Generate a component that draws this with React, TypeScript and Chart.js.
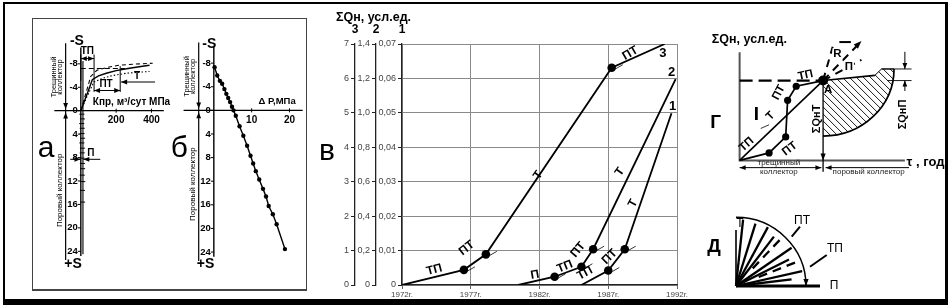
import React, { useEffect, useRef } from "react";
import { Chart, registerables } from "chart.js";

Chart.register(...registerables);

const SANS = "'Liberation Sans', Arial, Helvetica, sans-serif";
const NARROW = "'Liberation Sans Narrow', 'Liberation Sans', Arial, sans-serif";

/* ================= panel а : Кпр vs S ================= */
const A_Y_TICKS = [-8, -4, 0, 4, 8, 12, 16, 20, 24];
const A_Y_LABELS = ["-8", "-4", "0", "4", "8", "12", "16", "20", "24"];
const A_X_TICKS = [200, 400];
const A_X_LABELS = ["200", "400"];
const A_SOLID_K = [0, 20, 45, 65, 100, 144, 200, 267, 330, 389];
const A_SOLID_S = [0, -1.6, -3.6, -5.3, -5.95, -6.4, -6.85, -7.2, -7.5, -7.75];
const A_DASH_K = [0, 28, 56, 91, 150, 214, 300, 407];
const A_DASH_S = [0, -2.9, -5.85, -6.9, -7.4, -7.75, -7.95, -8.1];
const A_DOT_K = [0, 35, 74, 130, 179, 260, 389];
const A_DOT_S = [0, -2.4, -4.9, -5.6, -6.0, -6.4, -6.7];
const A_PORE_K = [12, 12];
const A_PORE_S = [-8.5, 24.5];
const A_MARK_K = [6, 9, 5, 8, 7, 10, 6, 9, 8, 7, 9, 10, 8, 11, 9, 10];
const A_MARK_S = [0.6, 1.4, 2.2, 3.0, 3.9, 4.7, 5.5, 6.4, 7.2, 8.1, 9.0, 9.9, 11.0, 12.1, 13.6, 15.6];

/* ================= panel б : ΔP vs S ================= */
const B_Y_TICKS = [-8, -4, 0, 4, 8, 12, 16, 20, 24];
const B_Y_LABELS = ["-8", "-4", "0", "4", "8", "12", "16", "20", "24"];
const B_X_TICKS = [10, 20];
const B_X_LABELS = ["10", "20"];
const B_DP = [0.2, 0.9, 1.6, 2.2, 2.8, 3.3, 3.8, 4.3, 4.8, 5.2, 5.8, 6.8, 7.8, 8.8, 9.7, 10.4, 11.1, 12.0, 13.0, 13.8, 14.5, 15.6, 16.6, 18.8];
const B_S = [-7.3, -5.9, -5.0, -4.5, -3.6, -2.8, -2.1, -1.4, -0.6, 0, 0.9, 2.7, 4.3, 6.0, 7.7, 9.0, 10.3, 11.7, 13.3, 14.6, 16.2, 17.6, 19.3, 23.5];

/* ================= panel в : ΣQн by years ================= */
const V_X_TICKS = [1972, 1977, 1982, 1987, 1992];
const V_X_LABELS = ["1972г.", "1977г.", "1982г.", "1987г.", "1992г."];
const V_AXIS3_LABELS = ["0", "1", "2", "3", "4", "5", "6", "7"];
const V_AXIS2_LABELS = ["0", "0,2", "0,4", "0,6", "0,8", "1,0", "1,2", "1,4"];
const V_AXIS1_LABELS = ["0", "0,01", "0,02", "0,03", "0,04", "0,05", "0,06", "0,07"];

const V_CURVE3_YEARS = [1972, 1976.5, 1978.1, 1987.25, 1991.1];
const V_CURVE3_Q = [0, 0.44, 0.89, 6.31, 7.0];
const V_CURVE3_MARK = [0, 1, 1, 1, 0];
const V_CURVE2_YEARS = [1980.45, 1983.1, 1985.05, 1985.9, 1991.9];
const V_CURVE2_Q = [0, 0.24, 0.53, 1.04, 5.98];
const V_CURVE2_MARK = [0, 1, 1, 1, 0];
const V_CURVE1_YEARS = [1985.05, 1987.0, 1988.2, 1991.6];
const V_CURVE1_Q = [0, 0.42, 1.04, 4.99];
const V_CURVE1_MARK = [0, 1, 1, 0];

const V_SEG_TEXT = ["ТП", "ПТ", "Т", "ПТ", "П", "ТП", "ПТ", "Т", "ТП", "ПТ", "Т"];
const V_SEG_X = [1974.35, 1976.7, 1981.9, 1988.6, 1981.67, 1983.85, 1984.8, 1987.85, 1985.3, 1987.1, 1988.8];
const V_SEG_Y = [0.44, 1.07, 3.19, 6.73, 0.29, 0.53, 1.02, 3.29, 0.34, 0.82, 2.37];
const V_SEG_ROT = [-15, -38, -55, -30, -10, -22, -50, -55, -28, -45, -62];
const V_CURVE_NAMES = ["3", "2", "1"];
const V_NAME_X = [1990.98, 1991.6, 1991.69];
const V_NAME_Y = [6.74, 6.16, 5.2];

/* ================= panel г : scheme ================= */
const G_I_U = [0, 1];
const G_I_V = [0, 1];
const G_II_U = [0, 0.353, 0.552, 0.575, 0.678, 1];
const G_II_V = [0, 0.094, 0.294, 0.753, 0.929, 1];
const G_II_MARK = [0, 1, 1, 1, 1, 0];
const G_A_U = [1];
const G_A_V = [1];
const G_LEVEL_U = [0, 1];
const G_LEVEL_V = [1, 1];
const G_TOP_U = [1, 1.62, 1.7, 1.85];
const G_TOP_V = [1, 1.065, 1.145, 1.145];
const G_ARC_C = [1, 1.145];
const G_ARC_R = [0.85, 0.84];
const G_RAY_END_U = [1.115, 1.46, 1.46];
const G_RAY_END_V = [1.424, 1.494, 1.259];
const G_TEXT = ["ТП", "ПТ", "I", "Т", "ТП", "ПТ", "А", "R", "П"];
const G_TEXT_U = [0.79, 0.468, 0.2, 0.371, 0.084, 0.6, 1.06, 1.172, 1.31];
const G_TEXT_V = [1.067, 0.85, 0.576, 0.556, 0.2, 0.145, 0.89, 1.33, 1.176];
const G_TEXT_ROT = [-12, -62, 0, -45, -42, -38, 0, 0, 0];

/* ================= panel д : rose ================= */
const D_SOLID_ANGLES = [84, 73, 62, 53, 35, 27, 13, 7];
const D_SOLID_LEN = [0.97, 0.95, 0.97, 0.9, 0.97, 0.85, 0.97, 0.8];
const D_DASH_ANGLES = [47, 22];
const D_DASH_FROM = [0.35, 0.35];
const D_DASH_TO = [0.95, 0.92];
const D_TEXT = ["Т", "П", "ПТ", "ТП"];
const D_TEXT_A = [0.057, 1.4, 0.943, 1.414];
const D_TEXT_B = [0.91, 0, 0.946, 0.539];

/* ================= helpers ================= */
type Box = { x: number; y: number; w: number; h: number };

function span(p0: number, v0: number, p1: number, v1: number, a: number, b: number): [number, number] {
  const k = (v1 - v0) / (p1 - p0);
  return [v0 + (a - p0) * k, v0 + (b - p0) * k];
}

function pts(xs: number[], ys: number[]) {
  return xs.map((x, i) => ({ x, y: ys[i] }));
}

function lineDs(xs: number[], ys: number[], width: number, extra: any = {}) {
  return {
    data: pts(xs, ys),
    borderColor: "#000",
    backgroundColor: "#000",
    borderWidth: width,
    pointRadius: 0,
    pointBackgroundColor: "#000",
    pointBorderColor: "#000",
    pointBorderWidth: 0,
    tension: 0,
    fill: false,
    ...extra,
  };
}

function strokePath(ctx: CanvasRenderingContext2D, p: number[][], width: number, color = "#000", dash: number[] = []) {
  ctx.save();
  ctx.beginPath();
  ctx.lineWidth = width;
  ctx.strokeStyle = color;
  ctx.setLineDash(dash);
  p.forEach(([x, y], i) => (i ? ctx.lineTo(x, y) : ctx.moveTo(x, y)));
  ctx.stroke();
  ctx.restore();
}

function arrowHead(ctx: CanvasRenderingContext2D, fx: number, fy: number, tx: number, ty: number, len = 6, half = 2.4, color = "#000") {
  const a = Math.atan2(ty - fy, tx - fx);
  ctx.save();
  ctx.fillStyle = color;
  ctx.beginPath();
  ctx.moveTo(tx, ty);
  ctx.lineTo(tx - len * Math.cos(a) + half * Math.sin(a), ty - len * Math.sin(a) - half * Math.cos(a));
  ctx.lineTo(tx - len * Math.cos(a) - half * Math.sin(a), ty - len * Math.sin(a) + half * Math.cos(a));
  ctx.closePath();
  ctx.fill();
  ctx.restore();
}

function arrow(ctx: CanvasRenderingContext2D, fx: number, fy: number, tx: number, ty: number, width = 1, both = false) {
  strokePath(ctx, [[fx, fy], [tx, ty]], width);
  arrowHead(ctx, fx, fy, tx, ty);
  if (both) arrowHead(ctx, tx, ty, fx, fy);
}

function text(ctx: CanvasRenderingContext2D, s: string, x: number, y: number, font: string, rot = 0,
  align: CanvasTextAlign = "center", baseline: CanvasTextBaseline = "middle", color = "#000") {
  ctx.save();
  ctx.translate(x, y);
  if (rot) ctx.rotate((rot * Math.PI) / 180);
  ctx.font = font;
  ctx.fillStyle = color;
  ctx.textAlign = align;
  ctx.textBaseline = baseline;
  ctx.fillText(s, 0, 0);
  ctx.restore();
}

function schematicOptions(xr: [number, number], yr: [number, number], reverse: boolean) {
  return {
    animation: false,
    responsive: false,
    events: [],
    layout: { padding: 0 },
    plugins: { legend: { display: false }, tooltip: { enabled: false } },
    scales: {
      x: { type: "linear", display: false, min: xr[0], max: xr[1] },
      y: {
        type: "linear",
        display: false,
        reverse,
        min: reverse ? yr[0] : yr[1],
        max: reverse ? yr[1] : yr[0],
      },
    },
  };
}

function mapper(chart: any) {
  const xs = chart.scales.x;
  const ys = chart.scales.y;
  return {
    X: (v: number) => xs.getPixelForValue(v),
    Y: (v: number) => ys.getPixelForValue(v),
    P: (u: number, v: number) => [xs.getPixelForValue(u), ys.getPixelForValue(v)],
  };
}

const TICK_FONT = `bold 9.5px ${NARROW}`;

/* ================= panel а chart ================= */
const A_BOX: Box = { x: 30, y: 20, w: 142, h: 270 };

function drawSAxis(ctx: CanvasRenderingContext2D, X: any, Y: any, yTicks: number[], yLabels: string[]) {
  const x0 = X(0);
  strokePath(ctx, [[x0, Y(-10.8)], [x0, Y(24.8)]], 1.4);
  yTicks.forEach((s, i) => {
    strokePath(ctx, [[x0 - 3, Y(s)], [x0, Y(s)]], 1);
    text(ctx, yLabels[i], x0 - 3, Y(s), TICK_FONT, 0, "right");
  });
}

function drawZoneTexts(ctx: CanvasRenderingContext2D, X: any, Y: any, k1: number, k2: number, kp: number, sp: number) {
  const f = `7.5px ${SANS}`;
  text(ctx, "Трещинный", X(k1), Y(-5.75), f, -90);
  text(ctx, "коллектор", X(k2), Y(-5.75), f, -90);
  text(ctx, "Поровый коллектор", X(kp), Y(sp), `8px ${SANS}`, -90);
}

const aPlugin = {
  id: "aExtras",
  afterDatasetsDraw(chart: any) {
    const ctx: CanvasRenderingContext2D = chart.ctx;
    const { X, Y } = mapper(chart);
    const y0 = Y(0);
    drawSAxis(ctx, X, Y, A_Y_TICKS, A_Y_LABELS);
    strokePath(ctx, [[X(-150), y0], [X(470), y0]], 1.3);
    A_X_TICKS.forEach((k, i) => {
      strokePath(ctx, [[X(k), y0 - 2], [X(k), y0 + 2]], 1);
      text(ctx, A_X_LABELS[i], X(k), y0 + 10, `bold 10px ${NARROW}`);
    });
    text(ctx, "Кпр, м³/сут МПа", X(68), Y(-1.5), `bold 10px ${NARROW}`, 0, "left");
    // boundary arrows line
    const xa = X(-86);
    strokePath(ctx, [[xa, Y(-11.5)], [xa, Y(25.5)]], 1.2);
    arrowHead(ctx, xa, Y(-3), xa, Y(-0.3));
    arrowHead(ctx, xa, Y(3), xa, Y(0.3));
    drawZoneTexts(ctx, X, Y, -154, -117, -117, 13.6);
    text(ctx, "-S", X(-22), Y(-11.8), `bold 14px ${SANS}`);
    text(ctx, "+S", X(-44), Y(26.2), `bold 14px ${SANS}`);
    // ТП bracket
    strokePath(ctx, [[X(0), Y(-9.6)], [X(0), Y(-5.1)]], 1);
    strokePath(ctx, [[X(75), Y(-9.6)], [X(75), Y(-3.2)]], 1);
    arrow(ctx, X(0), Y(-8.9), X(75), Y(-8.9), 1, true);
    text(ctx, "ТП", X(37), Y(-10.1), `bold 10px ${SANS}`);
    // ПТ bracket
    strokePath(ctx, [[X(223), Y(-7.6)], [X(223), Y(-3.2)]], 1);
    arrow(ctx, X(75), Y(-3.45), X(223), Y(-3.45), 1, true);
    text(ctx, "ПТ", X(143), Y(-4.6), `bold 10px ${SANS}`);
    strokePath(ctx, [[X(0), Y(-7.2)], [X(250), Y(-7.2)]], 1.1, "#000", [5, 3]);
    // Т arrow
    arrow(ctx, X(420), Y(-4.9), X(228), Y(-4.9), 1.2);
    text(ctx, "Т", X(319), Y(-5.9), `bold 10px ${SANS}`);
    // П arrows
    arrow(ctx, X(-60), Y(8.3), X(-2), Y(8.3), 1);
    arrow(ctx, X(110), Y(8.3), X(14), Y(8.3), 1);
    text(ctx, "П", X(56), Y(7.2), `bold 10px ${SANS}`);
    // letter
    text(ctx, "а", X(-243.7), Y(7.9), `30px ${SANS}`, 0, "left", "alphabetic");
  },
};

function makeAConfig() {
  const xr = span(79.3, 0, 155.3, 400, A_BOX.x, A_BOX.x + A_BOX.w);
  const yr = span(109, 0, 255, 24, A_BOX.y, A_BOX.y + A_BOX.h);
  return {
    type: "line",
    data: {
      datasets: [
        lineDs(A_SOLID_K, A_SOLID_S, 1.4),
        lineDs(A_DASH_K, A_DASH_S, 1.1, { borderDash: [4, 3] }),
        lineDs(A_DOT_K, A_DOT_S, 1.1, { borderDash: [1.5, 2] }),
        lineDs(A_PORE_K, A_PORE_S, 1.1),
        lineDs(A_MARK_K, A_MARK_S, 0, { showLine: false, pointStyle: "line", pointRadius: 2.5, pointBorderWidth: 1 }),
      ],
    },
    options: schematicOptions(xr, yr, true),
    plugins: [aPlugin],
  };
}

/* ================= panel б chart ================= */
const B_BOX: Box = { x: 160, y: 20, w: 147, h: 270 };

const bPlugin = {
  id: "bExtras",
  afterDatasetsDraw(chart: any) {
    const ctx: CanvasRenderingContext2D = chart.ctx;
    const { X, Y } = mapper(chart);
    const y0 = Y(0);
    drawSAxis(ctx, X, Y, B_Y_TICKS, B_Y_LABELS);
    strokePath(ctx, [[X(-8), y0], [X(23.5), y0]], 1.3);
    B_X_TICKS.forEach((k, i) => {
      strokePath(ctx, [[X(k), y0 - 2], [X(k), y0 + 2]], 1);
      text(ctx, B_X_LABELS[i], X(k), y0 + 10, `bold 10px ${NARROW}`);
    });
    text(ctx, "Δ P,МПа", X(11.8), Y(-1.5), `bold 9.5px ${NARROW}`, 0, "left");
    const xa = X(-4);
    strokePath(ctx, [[xa, Y(-11.5)], [xa, Y(25.5)]], 1.2);
    arrowHead(ctx, xa, Y(-3), xa, Y(-0.3));
    arrowHead(ctx, xa, Y(3), xa, Y(0.3));
    drawZoneTexts(ctx, X, Y, -7.2, -5.6, -5.5, 12.5);
    text(ctx, "-S", X(-1.2), Y(-11.3), `bold 14px ${SANS}`);
    text(ctx, "+S", X(-2.2), Y(26), `bold 14px ${SANS}`);
    text(ctx, "б", X(-11.4), Y(7.9), `30px ${SANS}`, 0, "left", "alphabetic");
  },
};

function makeBConfig() {
  const xr = span(212.7, 0, 292.7, 20, B_BOX.x, B_BOX.x + B_BOX.w);
  const yr = span(109, 0, 255, 24, B_BOX.y, B_BOX.y + B_BOX.h);
  return {
    type: "line",
    data: {
      datasets: [lineDs(B_DP, B_S, 1.4, { pointRadius: 2.2 })],
    },
    options: schematicOptions(xr, yr, true),
    plugins: [bPlugin],
  };
}

/* ================= panel в chart ================= */
const V_BOX: Box = { x: 312, y: 0, w: 388, h: 298 };

function vYAxis(labels: string[], width: number, weight: number, inner: boolean) {
  const values = labels.map((l) => parseFloat(l.replace(",", ".")));
  return {
    type: "linear",
    position: "left",
    weight,
    min: values[0],
    max: values[values.length - 1],
    afterBuildTicks: (s: any) => {
      s.ticks = values.map((v) => ({ value: v }));
    },
    afterFit: (s: any) => {
      s.width = width;
      s.paddingTop = 0;
      s.paddingBottom = 0;
    },
    ticks: {
      callback: (_v: any, i: number) => labels[i],
      font: { size: 9, family: SANS },
      color: "#444",
      padding: 2,
      autoSkip: false,
    },
    grid: {
      drawOnChartArea: inner,
      color: "#8a8a8a",
      lineWidth: 1,
      tickLength: 4,
      tickColor: "#222",
      tickWidth: 1,
    },
    border: { display: true, color: "#222", width: 1.3 },
  };
}

const vPlugin = {
  id: "vExtras",
  afterDatasetsDraw(chart: any) {
    const ctx: CanvasRenderingContext2D = chart.ctx;
    const { X, Y } = mapper(chart);
    const curves = [
      [V_CURVE3_YEARS, V_CURVE3_Q, V_CURVE3_MARK],
      [V_CURVE2_YEARS, V_CURVE2_Q, V_CURVE2_MARK],
      [V_CURVE1_YEARS, V_CURVE1_Q, V_CURVE1_MARK],
    ];
    curves.forEach(([xs, ys, ms]) => {
      xs.forEach((x: number, i: number) => {
        if (!ms[i]) return;
        const px = X(x);
        const py = Y(ys[i]);
        strokePath(ctx, [[px + 4, py + 1], [px + 11, py - 3]], 0.8);
      });
    });
    V_SEG_TEXT.forEach((s, i) => {
      text(ctx, s, X(V_SEG_X[i]), Y(V_SEG_Y[i]), `bold 12px ${SANS}`, V_SEG_ROT[i]);
    });
    V_CURVE_NAMES.forEach((s, i) => {
      text(ctx, s, X(V_NAME_X[i]), Y(V_NAME_Y[i]), `bold 13px ${SANS}`);
    });
  },
  afterDraw(chart: any) {
    const ctx: CanvasRenderingContext2D = chart.ctx;
    const s3 = chart.scales.y;
    const s2 = chart.scales.y2;
    const s1 = chart.scales.y1;
    text(ctx, "ΣQн, усл.ед.", s3.left + 1, 18, `bold 12.5px ${SANS}`, 0, "left");
    text(ctx, "3", s3.right, 30, `bold 12px ${SANS}`);
    text(ctx, "2", s2.right, 30, `bold 12px ${SANS}`);
    text(ctx, "1", s1.right, 30, `bold 12px ${SANS}`);
    const { X, Y } = mapper(chart);
    text(ctx, "в", X(1965.96), Y(3.63), `30px ${SANS}`, 0, "left", "alphabetic");
  },
};

function makeVConfig() {
  const ds = (xs: number[], ys: number[], marks: number[]) =>
    lineDs(xs, ys, 1.8, { pointRadius: marks.map((m) => (m ? 4.3 : 0)), yAxisID: "y" });
  return {
    type: "line",
    data: {
      datasets: [
        ds(V_CURVE3_YEARS, V_CURVE3_Q, V_CURVE3_MARK),
        ds(V_CURVE2_YEARS, V_CURVE2_Q, V_CURVE2_MARK),
        ds(V_CURVE1_YEARS, V_CURVE1_Q, V_CURVE1_MARK),
      ],
    },
    options: {
      animation: false,
      responsive: false,
      events: [],
      layout: { padding: { left: 23, top: 44, right: 23, bottom: 0 } },
      plugins: { legend: { display: false }, tooltip: { enabled: false } },
      scales: {
        x: {
          type: "linear",
          min: V_X_TICKS[0],
          max: V_X_TICKS[V_X_TICKS.length - 1],
          afterBuildTicks: (s: any) => {
            s.ticks = V_X_TICKS.map((v) => ({ value: v }));
          },
          afterFit: (s: any) => {
            s.height = 13;
            s.paddingLeft = 0;
            s.paddingRight = 0;
          },
          ticks: {
            callback: (_v: any, i: number) => V_X_LABELS[i],
            font: { size: 8, family: SANS },
            color: "#444",
            padding: 1,
            maxRotation: 0,
            autoSkip: false,
          },
          grid: { color: "#8a8a8a", lineWidth: 1, tickLength: 4, tickColor: "#666" },
          border: { color: "#222", width: 1.3 },
        },
        y: vYAxis(V_AXIS3_LABELS, 20, 3, false),
        y2: vYAxis(V_AXIS2_LABELS, 21, 2, false),
        y1: vYAxis(V_AXIS1_LABELS, 26, 1, true),
      },
    },
    plugins: [vPlugin],
  };
}

/* ================= panel г chart ================= */
const G_BOX: Box = { x: 702, y: 22, w: 246, h: 166 };

const gPlugin = {
  id: "gExtras",
  beforeDatasetsDraw(chart: any) {
    const ctx: CanvasRenderingContext2D = chart.ctx;
    const { X, Y, P } = mapper(chart);
    // axes
    strokePath(ctx, [P(0, 1.353), P(0, 0), P(1.98, 0)], 2, "#555");
    // hatched region
    const cx = X(G_ARC_C[0]);
    const cy = Y(G_ARC_C[1]);
    const rx = X(G_ARC_C[0] + G_ARC_R[0]) - cx;
    const ry = Y(G_ARC_C[1] - G_ARC_R[1]) - cy;
    ctx.save();
    ctx.beginPath();
    G_TOP_U.forEach((u, i) => {
      const [x, y] = P(u, G_TOP_V[i]);
      if (i) ctx.lineTo(x, y);
      else ctx.moveTo(x, y);
    });
    ctx.ellipse(cx, cy, rx, ry, 0, 0, Math.PI / 2);
    ctx.closePath();
    ctx.clip();
    ctx.strokeStyle = "#000";
    ctx.lineWidth = 0.9;
    for (let d = -220; d < 220; d += 7) {
      ctx.beginPath();
      ctx.moveTo(cx + d - 120, cy - 120);
      ctx.lineTo(cx + d + 120, cy + 120);
      ctx.stroke();
    }
    ctx.restore();
    ctx.save();
    ctx.beginPath();
    ctx.lineWidth = 1.7;
    ctx.strokeStyle = "#000";
    ctx.ellipse(cx, cy, rx, ry, 0, 0, Math.PI / 2);
    ctx.stroke();
    ctx.restore();
    strokePath(ctx, G_TOP_U.slice(1).map((u, i) => P(u, G_TOP_V[i + 1])), 1);
  },
  afterDatasetsDraw(chart: any) {
    const ctx: CanvasRenderingContext2D = chart.ctx;
    const { P } = mapper(chart);
    // vertical ΣQнТ arrow
    strokePath(ctx, [P(1, 1), P(1, -0.14)], 1.3);
    const [ax0, ay0] = P(1, 0.2);
    const [ax1, ay1] = P(1, 0);
    arrowHead(ctx, ax0, ay0, ax1, ay1, 7, 2.6);
    // dashed rays from A
    const [Ax, Ay] = P(1, 1);
    G_RAY_END_U.forEach((u, i) => {
      const [ex, ey] = P(u, G_RAY_END_V[i]);
      strokePath(ctx, [[Ax, Ay], [ex, ey]], 2, "#000", [8, 6]);
    });
    {
      const [ex, ey] = P(G_RAY_END_U[1], G_RAY_END_V[1]);
      const [fx, fy] = P(1.35, 1.38);
      arrowHead(ctx, fx, fy, ex, ey, 8, 3);
    }
    strokePath(ctx, [P(1.195, 1.482), P(1.333, 1.482)], 2);
    // dimension for ΣQнП
    strokePath(ctx, [P(1.7, 1.145), P(2.06, 1.145)], 0.9);
    strokePath(ctx, [P(1.77, 1.0), P(2.06, 1.0)], 0.9);
    {
      const [x1, y1] = P(1.98, 1.36);
      const [x2, y2] = P(1.98, 1.145);
      arrow(ctx, x1, y1, x2, y2, 1);
      const [x3, y3] = P(1.98, 0.87);
      const [x4, y4] = P(1.98, 1.0);
      arrow(ctx, x3, y3, x4, y4, 1);
    }
    // bottom collector arrows
    {
      const [l1, yb] = P(0, -0.09);
      const [l2] = P(0.98, -0.09);
      arrow(ctx, l1, yb, l2, yb, 1, true);
      const [r1] = P(1.03, -0.09);
      const [r2] = P(2.03, -0.09);
      arrow(ctx, r2, yb, r1, yb, 1);
    }
    // leader line near Т
    strokePath(ctx, [P(0.253, 0.4), P(0.353, 0.447)], 0.8);
    // texts
    G_TEXT.forEach((s, i) => {
      const [x, y] = P(G_TEXT_U[i], G_TEXT_V[i]);
      const font = s === "I" ? `bold 19px ${SANS}` : `bold 11.5px ${SANS}`;
      if (s === "П" || s === "R") {
        ctx.save();
        ctx.fillStyle = "#fff";
        ctx.fillRect(x - 5, y - 6, 10, 12);
        ctx.restore();
      }
      text(ctx, s, x, y, font, G_TEXT_ROT[i]);
    });
    {
      const [x, y] = P(-0.333, 1.518);
      text(ctx, "ΣQн, усл.ед.", x, y, `bold 12.5px ${SANS}`, 0, "left");
    }
    {
      const [x, y] = P(0.928, 0.52);
      text(ctx, "ΣQнТ", x, y, `bold 11px ${SANS}`, -90);
      const [x2, y2] = P(1.954, 0.576);
      text(ctx, "ΣQнП", x2, y2, `bold 11px ${SANS}`, -90);
    }
    {
      const [x, y] = P(2.0, -0.03);
      text(ctx, "τ , год", x, y, `bold 13px ${SANS}`, 0, "left");
      const [x1, y1] = P(0.47, -0.03);
      text(ctx, "трещинный", x1, y1, `8px ${SANS}`, 0, "center", "middle", "#222");
      const [x2, y2] = P(0.47, -0.14);
      text(ctx, "коллектор", x2, y2, `8px ${SANS}`, 0, "center", "middle", "#222");
      const [x3, y3] = P(1.546, -0.14);
      text(ctx, "поровый коллектор", x3, y3, `8px ${SANS}`, 0, "center", "middle", "#222");
      const [x4, y4] = P(-0.287, 0.47);
      text(ctx, "Г", x4, y4, `bold 19px ${SANS}`);
    }
  },
};

function makeGConfig() {
  const xr = span(736, 0, 823, 1, G_BOX.x, G_BOX.x + G_BOX.w);
  const yr = span(164, 0, 79, 1, G_BOX.y, G_BOX.y + G_BOX.h);
  return {
    type: "line",
    data: {
      datasets: [
        lineDs(G_I_U, G_I_V, 1.6),
        lineDs(G_II_U, G_II_V, 1.7, { pointRadius: G_II_MARK.map((m) => (m ? 3.6 : 0)) }),
        lineDs(G_TOP_U.slice(0, 2), G_TOP_V.slice(0, 2), 1.6),
        lineDs(G_LEVEL_U, G_LEVEL_V, 2.2, { borderDash: [13, 6] }),
        lineDs(G_A_U, G_A_V, 0, { pointRadius: 5 }),
      ],
    },
    options: schematicOptions(xr, yr, false),
    plugins: [gPlugin],
  };
}

/* ================= panel д chart ================= */
const D_BOX: Box = { x: 702, y: 200, w: 170, h: 97 };

const dPlugin = {
  id: "dExtras",
  afterDatasetsDraw(chart: any) {
    const ctx: CanvasRenderingContext2D = chart.ctx;
    const { X, Y, P } = mapper(chart);
    strokePath(ctx, [P(0, 0.815), P(0, 0)], 1.6);
    strokePath(ctx, [P(0, 0), P(1.2, 0)], 3);
    const cx = X(0);
    const cy = Y(0);
    const rx = X(1) - cx;
    const ry = cy - Y(1);
    ctx.save();
    ctx.beginPath();
    ctx.lineWidth = 1.5;
    ctx.strokeStyle = "#000";
    ctx.ellipse(cx, cy, rx, ry, 0, -Math.PI / 2, 0);
    ctx.stroke();
    ctx.restore();
    const [fx, fy] = P(1, 0.15);
    const [tx, ty] = P(1, 0);
    arrowHead(ctx, fx, fy, tx, ty, 7, 2.6);
    strokePath(ctx, [P(0.796, 0.719), P(0.914, 0.863)], 2);
    strokePath(ctx, [P(1.057, 0.281), P(1.296, 0.451)], 2);
    D_TEXT.forEach((s, i) => {
      const [x, y] = P(D_TEXT_A[i], D_TEXT_B[i]);
      text(ctx, s, x, y, `12px ${SANS}`);
    });
    const [lx, ly] = P(-0.314, 0.575);
    text(ctx, "Д", lx, ly, `bold 19px ${SANS}`);
  },
};

function makeDConfig() {
  const xr = span(736, 0, 806, 1, D_BOX.x, D_BOX.x + D_BOX.w);
  const yr = span(286, 0, 217.3, 1, D_BOX.y, D_BOX.y + D_BOX.h);
  const rad = (d: number) => (d * Math.PI) / 180;
  const solid = D_SOLID_ANGLES.map((ang, i) =>
    lineDs([0, D_SOLID_LEN[i] * Math.cos(rad(ang))], [0, D_SOLID_LEN[i] * Math.sin(rad(ang))], 2.3)
  );
  const dashed = D_DASH_ANGLES.map((ang, i) =>
    lineDs(
      [D_DASH_FROM[i] * Math.cos(rad(ang)), D_DASH_TO[i] * Math.cos(rad(ang))],
      [D_DASH_FROM[i] * Math.sin(rad(ang)), D_DASH_TO[i] * Math.sin(rad(ang))],
      2.3,
      { borderDash: [9, 6] }
    )
  );
  return {
    type: "line",
    data: { datasets: [...solid, ...dashed] },
    options: schematicOptions(xr, yr, false),
    plugins: [dPlugin],
  };
}

/* ================= components ================= */
function ChartBox({ box, make }: { box: Box; make: () => any }) {
  const ref = useRef<HTMLCanvasElement>(null);
  useEffect(() => {
    const chart = new Chart(ref.current as HTMLCanvasElement, make());
    return () => chart.destroy();
  }, []);
  return (
    <canvas
      ref={ref}
      width={box.w}
      height={box.h}
      style={{ position: "absolute", left: box.x, top: box.y, width: box.w, height: box.h, display: "block" }}
    />
  );
}

export default function App() {
  return (
    <div
      style={{
        position: "fixed",
        left: 0,
        top: 0,
        width: 950,
        height: 308,
        background: "#fff",
        overflow: "hidden",
        fontFamily: SANS,
      }}
    >
      <div
        style={{
          position: "absolute",
          left: 3,
          top: 2,
          width: 945,
          height: 303,
          boxSizing: "border-box",
          borderStyle: "solid",
          borderColor: "#000",
          borderWidth: "2px 3px 6px 2px",
        }}
      />
      <div
        style={{
          position: "absolute",
          left: 32,
          top: 18,
          width: 275,
          height: 273,
          boxSizing: "border-box",
          border: "1px solid #444",
          borderBottomWidth: 2,
        }}
      />
      <ChartBox box={A_BOX} make={makeAConfig} />
      <ChartBox box={B_BOX} make={makeBConfig} />
      <ChartBox box={V_BOX} make={makeVConfig} />
      <ChartBox box={G_BOX} make={makeGConfig} />
      <ChartBox box={D_BOX} make={makeDConfig} />
    </div>
  );
}
